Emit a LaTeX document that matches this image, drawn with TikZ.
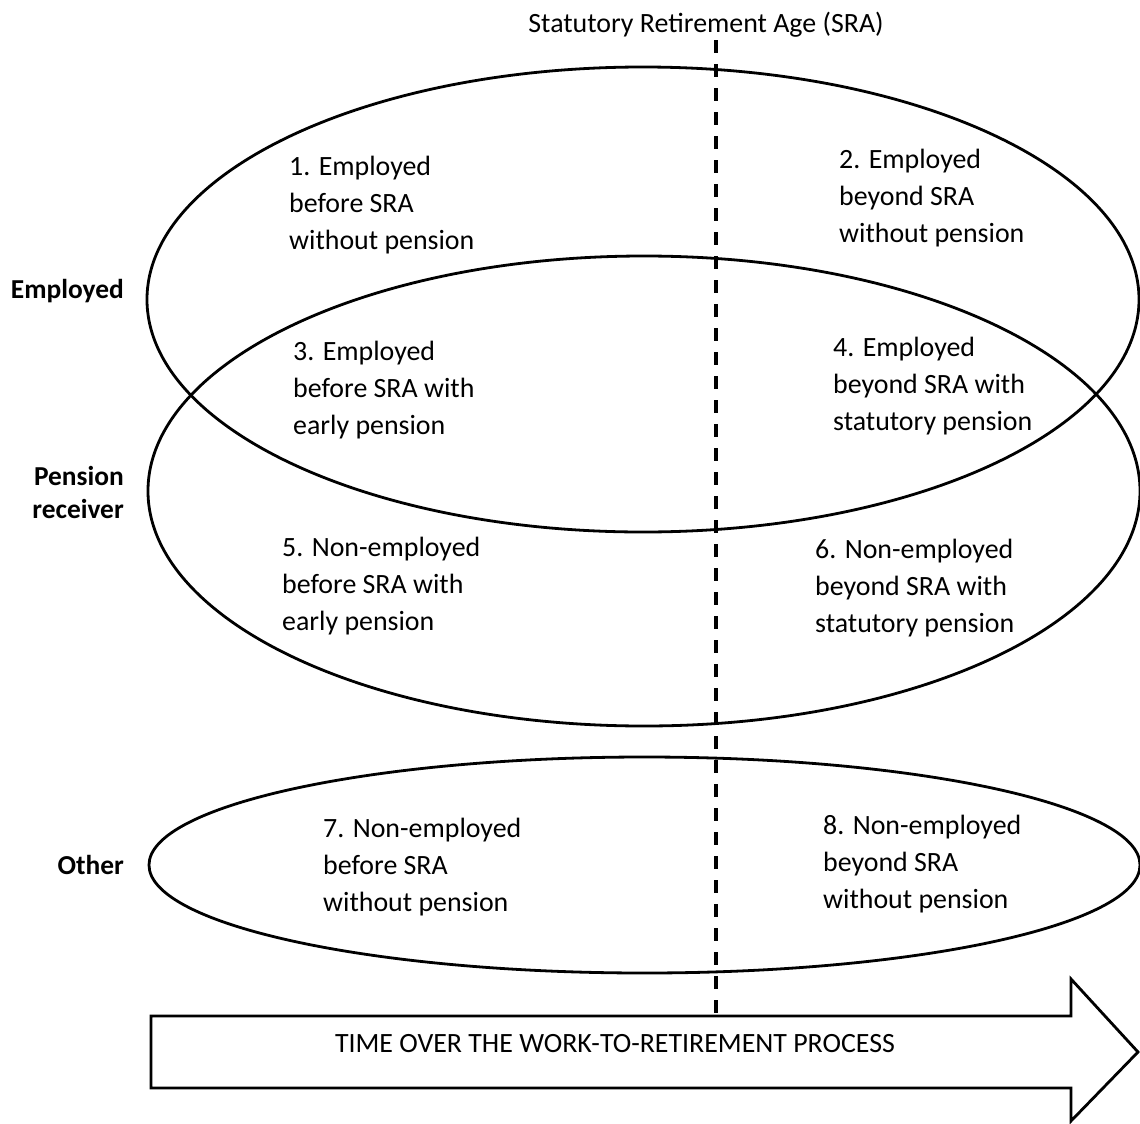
\documentclass[tikz,border=0pt]{standalone}
\usepackage{fontspec}
\setmainfont{Carlito}
\usetikzlibrary{shapes.geometric}
\begin{document}
\begin{tikzpicture}[x=1bp,y=-1bp,
  ell/.style={ellipse,draw,line width=2.8bp,inner sep=0pt},
  cell/.style={anchor=base west,align=left,inner sep=0pt,font=\fontsize{28}{37}\selectfont},
  rowlabel/.style={anchor=base east,align=right,inner sep=0pt,font=\fontsize{27.5}{33}\selectfont\bfseries},
  plain/.style={inner sep=0pt,font=\fontsize{28}{33}\selectfont},
  sraline/.style={line width=3.2bp,dash pattern=on 13bp off 11bp},
  timearrow/.style={draw,line width=2.8bp,line join=miter}]
\useasboundingbox (0,0) rectangle (1140,1124);
% ellipses
\node[ell,minimum width=992bp,minimum height=465bp] (emp) at (643,299.5) {};
\node[ell,minimum width=992bp,minimum height=470bp] (pen) at (644,491) {};
\node[ell,minimum width=991bp,minimum height=216bp] (oth) at (644.5,865) {};
% SRA dashed line
\node[plain,anchor=base] (sra) at (706,32) {Statutory Retirement Age (SRA)};
\coordinate (sraTop) at (716,40);
\coordinate (sraBot) at (716,1015);
\draw[sraline] (sraTop) -- (sraBot);
% arrow
\draw[timearrow] (151,1016) -- (1071,1016) -- (1071,979) -- (1138,1052)
  -- (1071,1121) -- (1071,1088) -- (151,1088) -- cycle;
\node[plain,anchor=base] (time) at (615,1052) {TIME OVER THE WORK-TO-RETIREMENT PROCESS};
% row labels (base = last line)
\node[rowlabel] (lemp) at (124,298) {Employed};
\node[rowlabel] (lpen) at (124,518) {Pension\\receiver};
\node[rowlabel] (loth) at (124,874) {Other};
% cells (base = last line)
\node[cell] (c1) at (289,249) {1. Employed\\before SRA\\without pension};
\node[cell] (c2) at (839,242) {2. Employed\\beyond SRA\\without pension};
\node[cell] (c3) at (293,434) {3. Employed\\before SRA with\\early pension};
\node[cell] (c4) at (833,430) {4. Employed\\beyond SRA with\\statutory pension};
\node[cell] (c5) at (282,630) {5. Non-employed\\before SRA with\\early pension};
\node[cell] (c6) at (815,632) {6. Non-employed\\beyond SRA with\\statutory pension};
\node[cell] (c7) at (323,911) {7. Non-employed\\before SRA\\without pension};
\node[cell] (c8) at (823,908) {8. Non-employed\\beyond SRA\\without pension};
\end{tikzpicture}
\end{document}
